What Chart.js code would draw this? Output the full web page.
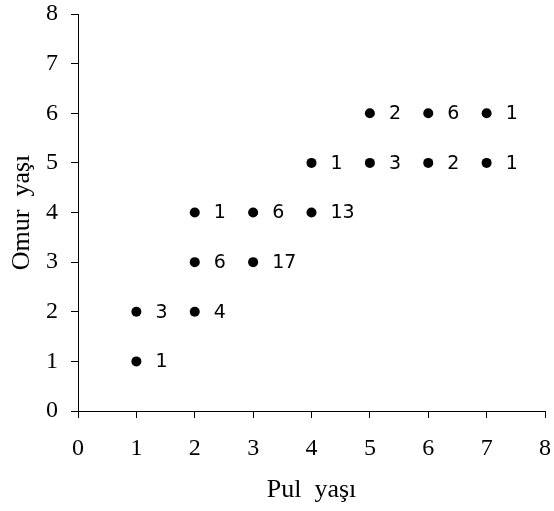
<!DOCTYPE html>
<html>
<head>
<meta charset="utf-8">
<script src="https://cdn.jsdelivr.net/npm/chart.js@4.4.1/dist/chart.umd.min.js"></script>
<style>
  html, body { margin: 0; padding: 0; background: #fff; }
  #wrap { width: 554px; height: 511px; }
</style>
</head>
<body>
<div id="wrap"><canvas id="c" width="554" height="511"></canvas></div>
<script>
// ── Data ──────────────────────────────────────────────────────────────────────
const pulYasi  = [1, 1, 2, 2, 2, 3, 3, 4, 4, 5, 5, 6, 6, 7, 7];
const omurYasi = [1, 2, 2, 3, 4, 3, 4, 4, 5, 5, 6, 5, 6, 5, 6];
const counts   = [1, 3, 4, 6, 1, 17, 6, 13, 1, 3, 2, 2, 6, 1, 1];
const axisMin = 0, axisMax = 8;

const SERIF = '"Liberation Serif", "Times New Roman", serif';
const SANS  = '"DejaVu Sans", Arial, sans-serif';

const points = pulYasi.map((x, i) => ({ x, y: omurYasi[i] }));

// draws count next to each point
const countLabels = {
  id: 'countLabels',
  afterDatasetsDraw(chart) {
    const { ctx, scales: { x, y } } = chart;
    ctx.save();
    ctx.font = '19px ' + SANS;
    ctx.fillStyle = '#000';
    ctx.textAlign = 'left';
    ctx.textBaseline = 'middle';
    points.forEach((p, i) => {
      ctx.fillText(String(counts[i]), x.getPixelForValue(p.x) + 19, y.getPixelForValue(p.y) + 1);
    });
    ctx.restore();
  }
};

const axisCommon = {
  type: 'linear',
  min: axisMin, max: axisMax,
  border: { display: true, color: '#000', width: 1 },
  grid: { drawOnChartArea: false, drawTicks: true, tickLength: 7, color: '#000' },
};

new Chart(document.getElementById('c'), {
  type: 'scatter',
  data: {
    datasets: [{
      data: points,
      pointRadius: 5,
      pointHoverRadius: 5,
      backgroundColor: '#000',
      borderColor: '#000',
      borderWidth: 0,
    }]
  },
  options: {
    responsive: false,
    animation: false,
    layout: { padding: { top: 14, right: 9, left: 0, bottom: 0 } },
    plugins: { legend: { display: false }, tooltip: { enabled: false } },
    scales: {
      x: {
        ...axisCommon,
        position: 'bottom',
        ticks: { stepSize: 1, color: '#000', padding: 16, maxRotation: 0, font: { family: SERIF, size: 24 } },
        title: { display: true, text: 'Pul  yaşı', color: '#000', padding: { top: 0, bottom: 5 }, font: { family: SERIF, size: 26 } },
        afterFit: s => { s.height = 100; s.paddingLeft = 0; s.paddingRight = 0; }
      },
      y: {
        ...axisCommon,
        position: 'left',
        ticks: { stepSize: 1, color: '#000', padding: 13, font: { family: SERIF, size: 24 } },
        title: { display: true, text: 'Omur  yaşı', color: '#000', padding: { top: 7, bottom: 0 }, font: { family: SERIF, size: 26 } },
        afterFit: s => { s.width = 78; s.paddingTop = 0; s.paddingBottom = 0; }
      }
    }
  },
  plugins: [countLabels]
});
</script>
</body>
</html>
